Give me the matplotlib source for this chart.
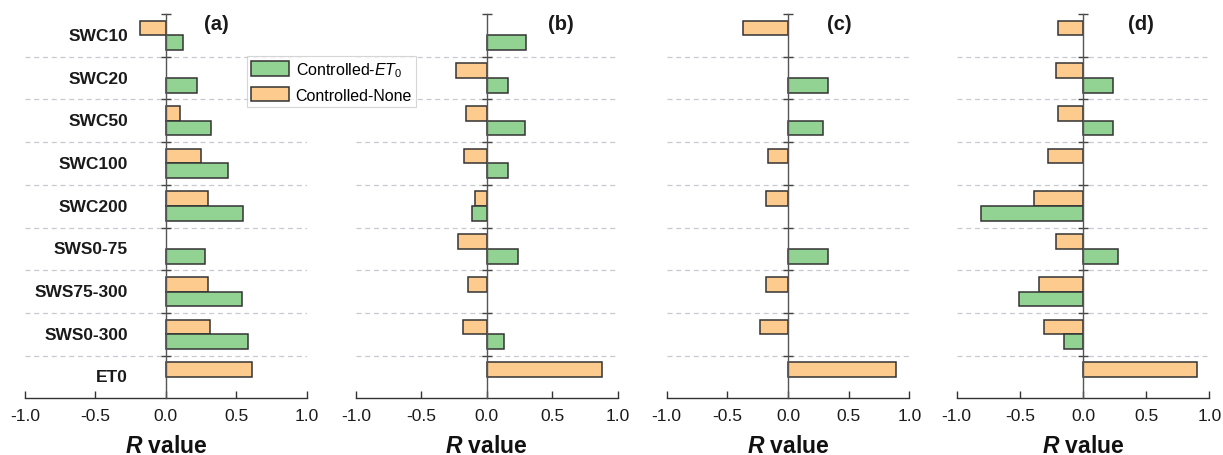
import numpy as np
import matplotlib
matplotlib.use("Agg")
import matplotlib.pyplot as plt
from matplotlib.patches import Patch

plt.rcParams["font.family"] = ["Liberation Sans", "DejaVu Sans"]
plt.rcParams["mathtext.fontset"] = "custom"
plt.rcParams["mathtext.rm"] = "Liberation Sans"
plt.rcParams["mathtext.it"] = "Liberation Sans:italic"
plt.rcParams["mathtext.bf"] = "Liberation Sans:bold"
plt.rcParams["mathtext.bfit"] = "Liberation Sans:bold:italic"

categories = ["SWC10", "SWC20", "SWC50", "SWC100", "SWC200",
              "SWS0-75", "SWS75-300", "SWS0-300", "ET0"]

# R values, None = not significant / not drawn
et0_a = [0.12, 0.22, 0.32, 0.44, 0.55, 0.28, 0.54, 0.58, None]
none_a = [-0.18, None, 0.10, 0.25, 0.30, None, 0.30, 0.31, 0.61]
et0_b = [0.30, 0.165, 0.29, 0.165, -0.11, 0.24, None, 0.13, None]
none_b = [None, -0.235, -0.16, -0.175, -0.09, -0.22, -0.14, -0.18, 0.88]
et0_c = [None, 0.33, 0.29, None, None, 0.33, None, None, None]
none_c = [-0.37, None, None, -0.165, -0.18, None, -0.18, -0.23, 0.89]
et0_d = [None, 0.24, 0.235, None, -0.81, 0.28, -0.51, -0.15, None]
none_d = [-0.20, -0.21, -0.195, -0.275, -0.39, -0.21, -0.345, -0.305, 0.90]

panels = [("(a)", et0_a, none_a, 0.36),
          ("(b)", et0_b, none_b, 0.57),
          ("(c)", et0_c, none_c, 0.42),
          ("(d)", et0_d, none_d, 0.46)]

GREEN = "#92d394"
ORANGE = "#fdcb8e"
EDGE = "#333333"
GRID = "#c8c8d2"

W, H = 1223, 456
fig = plt.figure(figsize=(W / 100, H / 100), dpi=100)
# left/right pixel edges of each panel's x range (-1 .. 1)
edges = [(25, 306.7), (356, 617.5), (666.7, 909.3), (956.7, 1209.3)]
top_px, bot_px = 15, 399.3

y = np.arange(len(categories))
bh = 0.345


def vals(seq):
    return np.array([np.nan if v is None else v for v in seq], dtype=float)


for i, ((tag, g, o, tagx), (x0, x1)) in enumerate(zip(panels, edges)):
    ax = fig.add_axes([x0 / W, 1 - bot_px / H, (x1 - x0) / W, (bot_px - top_px) / H])
    ax.set_xlim(-1, 1)
    ax.set_ylim(len(categories) - 0.5, -0.5)

    for yb in np.arange(0.5, len(categories) - 0.5, 1):
        ax.axhline(yb, color=GRID, lw=0.9, ls=(0, (4, 3)), zorder=0)

    gv, ov = vals(g), vals(o)
    mo = ~np.isnan(ov)
    mg = ~np.isnan(gv)
    ax.barh(y[mo] - bh / 2, ov[mo], height=bh, color=ORANGE, edgecolor=EDGE,
            linewidth=1.1, zorder=2)
    ax.barh(y[mg] + bh / 2, gv[mg], height=bh, color=GREEN, edgecolor=EDGE,
            linewidth=1.1, zorder=2)

    for s in ("top", "right"):
        ax.spines[s].set_visible(False)
    ax.spines["left"].set_position(("data", 0))
    ax.spines["left"].set_color("#555555")
    ax.spines["left"].set_linewidth(1.0)
    ax.spines["left"].set_zorder(3)
    ax.spines["bottom"].set_color("#333333")
    ax.spines["bottom"].set_linewidth(1.0)

    ax.set_yticks(np.arange(-0.5, len(categories) - 0.5, 1))
    ax.set_yticklabels([])
    ax.tick_params(axis="y", direction="inout", length=7, width=1.0, color="#444444")

    ax.set_xticks([-1.0, -0.5, 0.0, 0.5, 1.0])
    ax.set_xticklabels(["-1.0", "-0.5", "0.0", "0.5", "1.0"])
    ax.tick_params(axis="x", direction="in", length=5, width=1.0, pad=7,
                   labelsize=12.5, color="#333333", labelcolor="#1a1a1a")

    ax.set_xlabel(r"$\mathbfit{R}$ value", fontsize=16.5, fontweight="bold",
                  labelpad=8, color="#111111")
    ax.text(tagx, -0.27, tag, fontsize=14.5, fontweight="bold", ha="center",
            va="center", color="#1a1a1a")

    if i == 0:
        for yi, name in zip(y, categories):
            ax.text(-0.27, yi, name, ha="right", va="center", fontsize=12.5,
                    fontweight="bold", color="#1a1a1a")

handles = [Patch(facecolor=GREEN, edgecolor=EDGE, linewidth=1.1),
           Patch(facecolor=ORANGE, edgecolor=EDGE, linewidth=1.1)]
leg = fig.legend(handles, [r"Controlled-$\mathit{ET}_0$", "Controlled-None"],
                 loc="upper left", bbox_to_anchor=(247 / W, 1 - 57 / H),
                 fontsize=11.5, frameon=True, fancybox=False, borderpad=0.25,
                 handlelength=2.35, handleheight=1.05, handletextpad=0.45,
                 labelspacing=0.5, borderaxespad=0)
leg.get_frame().set_edgecolor("#cccccc")
leg.get_frame().set_linewidth(0.8)

fig.savefig("out.png", dpi=100, facecolor="white")
